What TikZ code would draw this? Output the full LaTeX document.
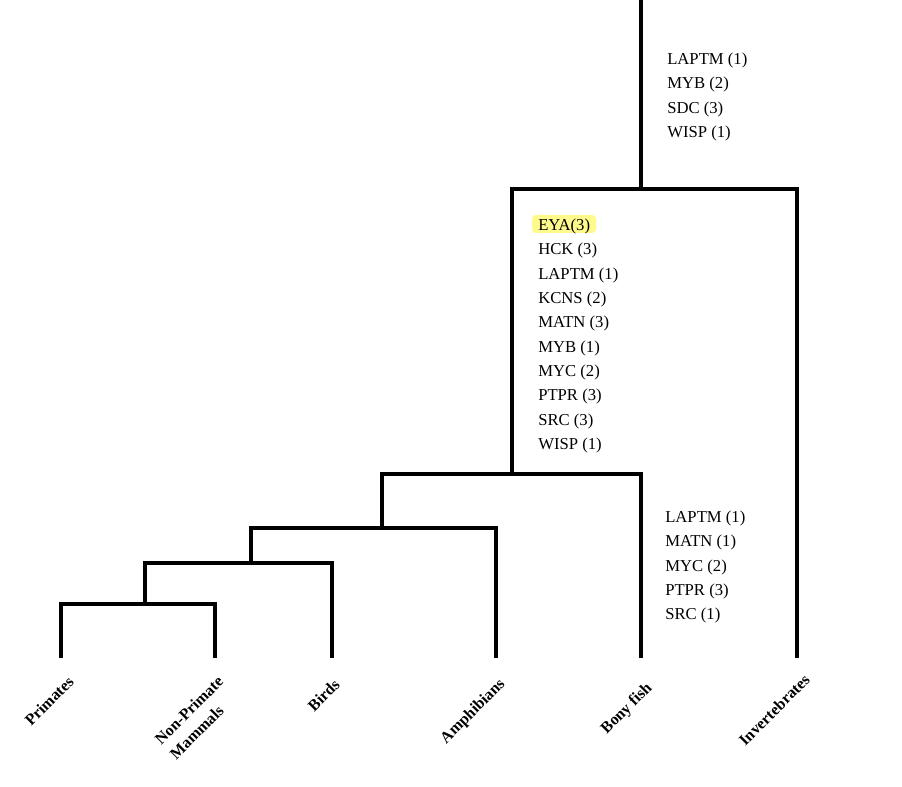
\documentclass[tikz,border=0pt]{standalone}
\usepackage{fontspec}
\setmainfont{Liberation Serif}
\begin{document}
\begin{tikzpicture}[x=0.75pt,y=-0.75pt,
  branch/.style={line width=3pt,line join=miter,line cap=rect},
  genes/.style={anchor=west,inner sep=0pt,align=left,font=\fontsize{12.5pt}{18.25pt}\selectfont},
  taxon/.style={anchor=east,inner sep=0pt,rotate=45,font=\fontsize{12pt}{15.75pt}\selectfont\bfseries}]
\path[use as bounding box,fill=white] (0,0) rectangle (902,787);
% junctions
\coordinate (root) at (641,-3);
\coordinate (n1) at (641,189);
\coordinate (n1L) at (512,189);
\coordinate (n1R) at (797,189);
\coordinate (inv) at (797,656);
\coordinate (n2) at (512,474);
\coordinate (n2L) at (382,474);
\coordinate (n2R) at (641,474);
\coordinate (bony) at (641,656);
\coordinate (n3) at (382,528);
\coordinate (n3L) at (251,528);
\coordinate (n3R) at (496,528);
\coordinate (amph) at (496,656);
\coordinate (n4) at (251,563);
\coordinate (n4L) at (145,563);
\coordinate (n4R) at (332,563);
\coordinate (birds) at (332,656);
\coordinate (n5) at (145,604);
\coordinate (n5L) at (61,604);
\coordinate (n5R) at (215,604);
\coordinate (prim) at (61,656);
\coordinate (npm) at (215,656);
% highlight
\fill[fill={rgb,255:red,255;green,250;blue,140},rounded corners=3pt] (532,215) rectangle (596,233);
% branches
\draw[branch] (root) -- (n1);
\draw[branch] (n2) -- (n1L) -- (n1R) -- (inv);
\draw[branch] (n3) -- (n2L) -- (n2R) -- (bony);
\draw[branch] (n4) -- (n3L) -- (n3R) -- (amph);
\draw[branch] (n5) -- (n4L) -- (n4R) -- (birds);
\draw[branch] (prim) -- (n5L) -- (n5R) -- (npm);
% gene lists
\node[genes] (g1) at (667,97) {LAPTM (1)\\MYB (2)\\SDC (3)\\WISP (1)};
\node[genes] (g2) at (538,336) {EYA(3)\\HCK (3)\\LAPTM (1)\\KCNS (2)\\MATN (3)\\MYB (1)\\MYC (2)\\PTPR (3)\\SRC (3)\\WISP (1)};
\node[genes] (g3) at (665,567) {LAPTM (1)\\MATN (1)\\MYC (2)\\PTPR (3)\\SRC (1)};
% taxa
\node[taxon] (tprim) at (71,679) {Primates};
\node[taxon,align=left] (tnpm) at (228,686) {Non-Primate\\Mammals};
\node[taxon] (tbirds) at (337,682) {Birds};
\node[taxon] (tamph) at (503,682) {Amphibians};
\node[taxon] (tbony) at (650,686) {Bony fish};
\node[taxon] (tinv) at (807,677) {Invertebrates};
\end{tikzpicture}
\end{document}
